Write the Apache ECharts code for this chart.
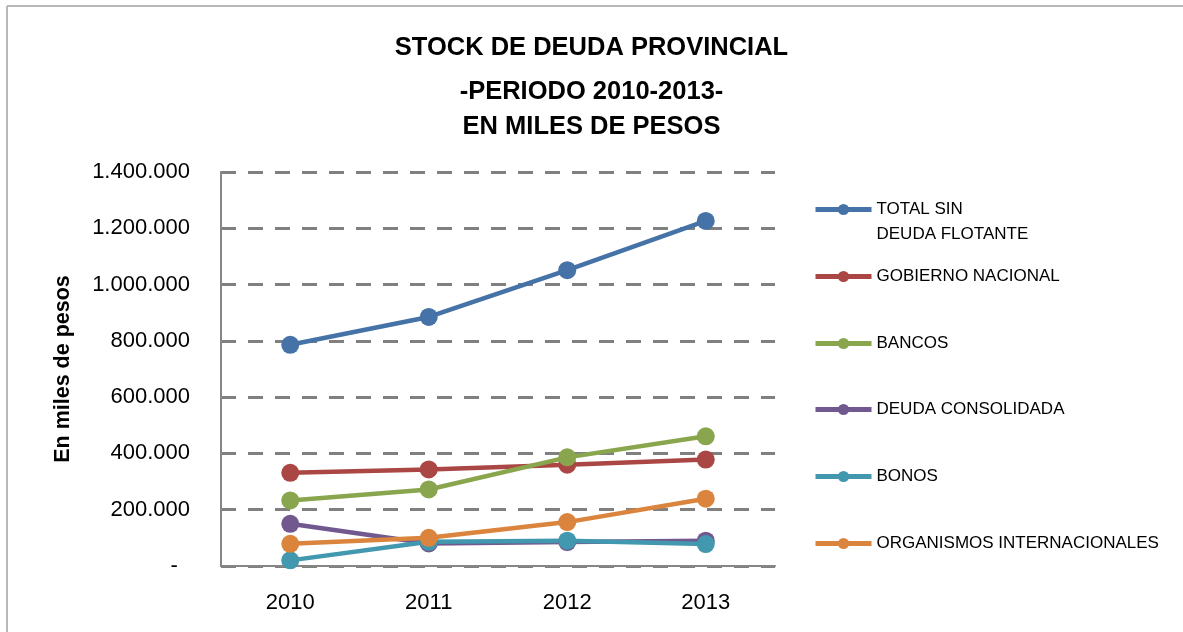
<!DOCTYPE html>
<html>
<head>
<meta charset="utf-8">
<script src="https://cdn.jsdelivr.net/npm/echarts@6/dist/echarts.min.js"></script>
<style>
    html, body { margin: 0; padding: 0; background: #fff; }
    #main { width: 1183px; height: 632px; }
</style>
</head>
<body>
<div id="main"></div>
<script>
// Categories (years) and series values, in miles de pesos
const years = ["2010", "2011", "2012", "2013"];
const totalSinDeudaFlotante = [786000, 885000, 1051000, 1226000];
const gobiernoNacional = [331000, 343000, 360000, 378000];
const bancos = [233000, 272000, 386000, 461000];
const deudaConsolidada = [150000, 80000, 85000, 90000];
const bonos = [20000, 86000, 90000, 78000];
const organismosInternacionales = [79000, 100000, 156000, 239000];

const seriesNames = [
    "TOTAL SIN DEUDA FLOTANTE",
    "GOBIERNO NACIONAL",
    "BANCOS",
    "DEUDA CONSOLIDADA",
    "BONOS",
    "ORGANISMOS INTERNACIONALES",
];
const seriesData = [totalSinDeudaFlotante, gobiernoNacional, bancos, deudaConsolidada, bonos, organismosInternacionales];
const colors = ["#4572A7", "#AA4643", "#89A54E", "#71588F", "#4198AF", "#DB843D"];

const titleLines = ["STOCK DE DEUDA PROVINCIAL", "-PERIODO 2010-2013-", "EN MILES DE PESOS"];

const chart = echarts.init(document.getElementById("main"));

// Format numbers like 1.400.000, zero as "-"
const fmt = (v) => (v === 0 ? "-  " : String(v).replace(/\B(?=(\d{3})+(?!\d))/g, "."));

// one legend per entry so each sits where the reference puts it
const legendTops = [172, 264, 331, 397, 464, 531];

const options = {
    backgroundColor: "#fff",
    title: titleLines.map((t, i) => ({
        text: t,
        left: "center",
        top: [30, 74, 109][i],
        textStyle: { fontFamily: "Liberation Sans", fontWeight: "bold", fontSize: 25.5, color: "#000" },
    })),
    legend: seriesNames.map((n, i) => ({
        data: [n],
        left: 813,
        top: legendTops[i],
        padding: 0,
        orient: "vertical",
        itemWidth: 56,
        itemHeight: 14,
        lineStyle: { width: 5 },
        // blank first line keeps the icon level with "TOTAL SIN"
        formatter: (name) => (name === seriesNames[0] ? "\nTOTAL SIN\nDEUDA FLOTANTE" : name),
        textStyle: { fontFamily: "Liberation Sans", fontSize: 17, color: "#000", lineHeight: 25 },
    })),
    grid: {
        left: 221,
        right: 408,
        top: 172,
        bottom: 66,
    },
    xAxis: {
        type: "category",
        data: years,
        boundaryGap: true,
        axisLine: { lineStyle: { color: "#868686", width: 2 } },
        axisTick: { show: false },
        axisLabel: { fontFamily: "Liberation Sans", fontSize: 22, color: "#000", margin: 26 },
    },
    yAxis: {
        type: "value",
        min: 0,
        max: 1400000,
        interval: 200000,
        name: "En miles de pesos",
        nameLocation: "middle",
        nameGap: 147,
        nameRotate: 90,
        nameTextStyle: { fontFamily: "Liberation Sans", fontWeight: "bold", fontSize: 21.5, color: "#000" },
        axisLine: { show: true, lineStyle: { color: "#868686", width: 2 } },
        axisTick: { show: false },
        axisLabel: { fontFamily: "Liberation Sans", fontSize: 22, color: "#000", margin: 31, formatter: fmt },
        splitLine: { lineStyle: { color: "#808080", width: 3, type: [15, 12] } },
    },
    graphic: [
        { type: "line", shape: { x1: 7, y1: 6, x2: 1183, y2: 6 }, style: { stroke: "#b8b8b8", lineWidth: 2 } },
        { type: "line", shape: { x1: 7, y1: 6, x2: 7, y2: 632 }, style: { stroke: "#b8b8b8", lineWidth: 2 } },
    ],
    series: seriesNames.map((n, i) => ({
        name: n,
        type: "line",
        data: seriesData[i],
        color: colors[i],
        symbol: "circle",
        symbolSize: 18,
        lineStyle: { width: 4.5 },
        animation: false,
    })),
};

chart.setOption(options);
</script>
</body>
</html>
